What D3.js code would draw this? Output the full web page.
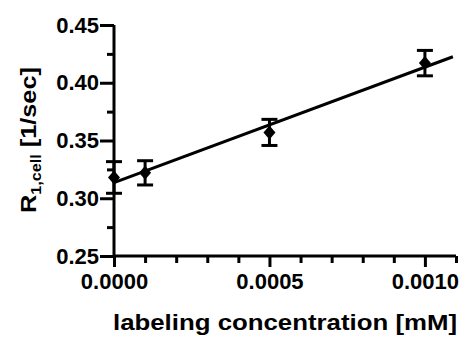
<!DOCTYPE html>
<html>
<head>
<meta charset="utf-8">
<script src="https://cdn.jsdelivr.net/npm/d3@7"></script>
<style>
  body { margin: 0; background: #fff; }
  text { font-family: "Liberation Sans", Arial, Helvetica, sans-serif; font-weight: bold; fill: #000; }
</style>
</head>
<body>
<svg id="chart" width="463" height="338"></svg>
<script>
// ─── Data ───
const concentrations = [0.0000, 0.0001, 0.0005, 0.0010];   // mM
const r1Values       = [0.318, 0.322, 0.357, 0.417];       // 1/sec
const r1Errors       = [0.0137, 0.0105, 0.0113, 0.011];
const fitIntercept   = 0.3135;
const fitSlope       = 100;
const xMajorTicks    = [0, 0.0005, 0.0010];
const xMinorTicks    = [0.0001, 0.0002, 0.0003, 0.0004, 0.0006, 0.0007, 0.0008, 0.0009, 0.0011];
const yMajorTicks    = [0.25, 0.30, 0.35, 0.40, 0.45];
const yMinorTicks    = [0.275, 0.325, 0.375, 0.425];

const svg = d3.select("#chart");

const x = d3.scaleLinear().domain([0, 0.0011]).range([114, 456]);
const y = d3.scaleLinear().domain([0.25, 0.45]).range([256, 25]);

// ─── Fit line ───
const fitX = [0, 0.00109];
svg.append("line")
  .attr("x1", x(fitX[0])).attr("y1", y(fitIntercept + fitSlope * fitX[0]))
  .attr("x2", x(fitX[1])).attr("y2", y(fitIntercept + fitSlope * fitX[1]))
  .attr("stroke", "#000").attr("stroke-width", 3);

// ─── Axes ───
const yAxis = svg.append("g").attr("transform", `translate(${x(0)},0)`)
  .call(d3.axisLeft(y).tickValues(yMajorTicks).tickSize(14).tickPadding(1)
        .tickFormat(d3.format(".2f")));
svg.append("g").attr("transform", `translate(${x(0)},0)`)
  .call(d3.axisLeft(y).tickValues(yMinorTicks).tickSize(7).tickFormat(""))
  .select(".domain").remove();

const xAxis = svg.append("g").attr("transform", `translate(0,${y(0.25)})`)
  .call(d3.axisBottom(x).tickValues(xMajorTicks).tickSize(11).tickPadding(6)
        .tickFormat(d3.format(".4f")));
svg.append("g").attr("transform", `translate(0,${y(0.25)})`)
  .call(d3.axisBottom(x).tickValues(xMinorTicks).tickSize(7).tickFormat(""))
  .select(".domain").remove();

// plain domain lines without end caps
yAxis.select(".domain").attr("stroke-width", 3).attr("d", `M0,${y(0.45)}V${y(0.25)}`);
xAxis.select(".domain").attr("stroke-width", 3).attr("d", `M${x(0)},0H${x(0.0011)}`);
svg.selectAll(".tick line").attr("stroke-width", 3);
svg.selectAll(".tick text").attr("font-size", 22).attr("font-weight", "bold");

// ─── Error bars ───
const pts = concentrations.map((c, i) => ({ c, v: r1Values[i], e: r1Errors[i] }));
const cap = 8;
const eb = svg.append("g").attr("stroke", "#000").attr("stroke-width", 3);
pts.forEach(p => {
  eb.append("line").attr("x1", x(p.c)).attr("x2", x(p.c))
    .attr("y1", y(p.v - p.e)).attr("y2", y(p.v + p.e));
  [p.v - p.e, p.v + p.e].forEach(v => {
    eb.append("line").attr("x1", x(p.c) - cap).attr("x2", x(p.c) + cap)
      .attr("y1", y(v)).attr("y2", y(v));
  });
});

// ─── Diamond markers ───
svg.selectAll(".pt").data(pts).enter().append("path")
  .attr("class", "pt")
  .attr("transform", d => `translate(${x(d.c)},${y(d.v)})`)
  .attr("d", "M0,-7 L6,0 L0,7 L-6,0 Z")
  .attr("fill", "#000");

// ─── Axis titles ───
svg.append("text")
  .attr("x", 285).attr("y", 330)
  .attr("text-anchor", "middle")
  .attr("font-size", 22)
  .attr("textLength", 344)
  .attr("lengthAdjust", "spacingAndGlyphs")
  .text("labeling concentration [mM]");

const yt = svg.append("text")
  .attr("transform", "translate(36,140) rotate(-90)")
  .attr("text-anchor", "middle")
  .attr("font-size", 22)
  .attr("textLength", 146)
  .attr("lengthAdjust", "spacingAndGlyphs");
yt.append("tspan").text("R");
yt.append("tspan").attr("font-size", 14).attr("dy", 5).text("1,cell");
yt.append("tspan").attr("dy", -5).text(" [1/sec]");
</script>
</body>
</html>
